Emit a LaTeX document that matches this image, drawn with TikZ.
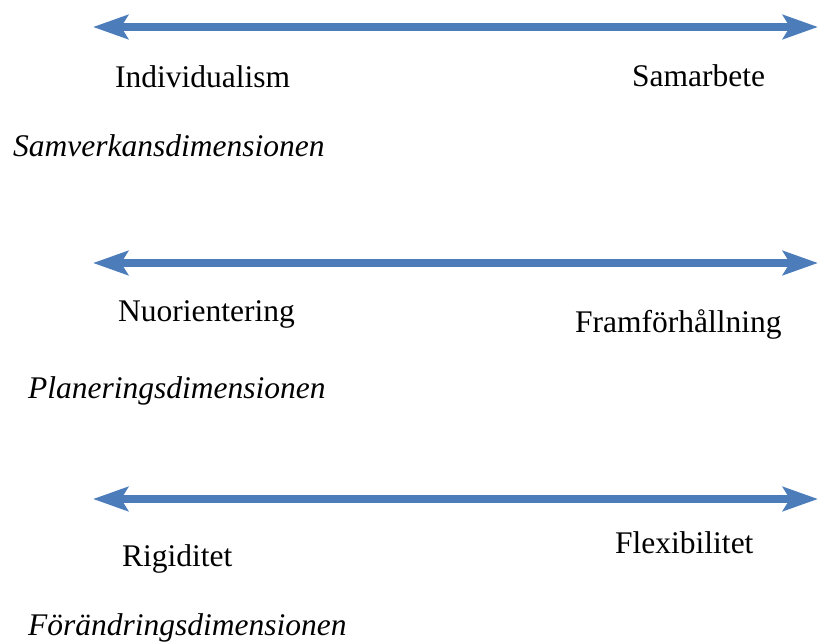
\documentclass[tikz,border=0pt]{standalone}
\usepackage{fontspec}
\setmainfont{Liberation Serif}
\definecolor{axisblue}{RGB}{76,125,186}
\usetikzlibrary{arrows.meta,positioning}

\begin{document}
\begin{tikzpicture}[x=1pt, y=-1pt,
    pole/.style={font=\fontsize{31.5}{36}\selectfont, anchor=base west, inner sep=0pt},
    dimname/.style={font=\fontsize{31.5}{36}\selectfont\itshape, anchor=base west, inner sep=0pt},
    axis/.style={{Stealth[length=35pt,width=24pt,inset=7pt]}-{Stealth[length=35pt,width=24pt,inset=7pt]},
                 line width=8pt, axisblue}]
    \useasboundingbox (0,0) rectangle (819,643);

    % Samverkan
    \coordinate (l1) at (93,27);
    \coordinate (r1) at (818,27);
    \draw[axis] (l1) -- (r1);
    \node[pole] (ind) at (115,87) {Individualism};
    \node[pole] (sam) at (632,86) {Samarbete};
    \node[dimname] (dim1) at (13,156) {Samverkansdimensionen};

    % Planering
    \coordinate (l2) at (93,263);
    \coordinate (r2) at (818,263);
    \draw[axis] (l2) -- (r2);
    \node[pole] (nuo) at (118,321) {Nuorientering};
    \node[pole] (fram) at (575,332) {Framförhållning};
    \node[dimname] (dim2) at (28,398) {Planeringsdimensionen};

    % Förändring
    \coordinate (l3) at (93,499);
    \coordinate (r3) at (818,499);
    \draw[axis] (l3) -- (r3);
    \node[pole] (rig) at (122,566) {Rigiditet};
    \node[pole] (flex) at (615,553) {Flexibilitet};
    \node[dimname] (dim3) at (28,635) {Förändringsdimensionen};
\end{tikzpicture}
\end{document}
